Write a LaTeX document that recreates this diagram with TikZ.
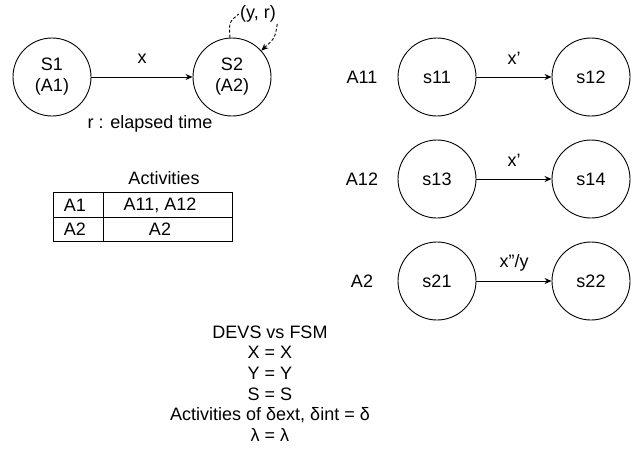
\documentclass[tikz,border=0pt]{standalone}
\usepackage{fontspec}
\setmainfont{Liberation Sans}
\usetikzlibrary{arrows.meta}
\begin{document}
\begin{tikzpicture}[x=1pt,y=-1pt,line width=0.9pt,
  every node/.style={font=\fontsize{18}{21}\selectfont},
  state/.style={circle,draw,minimum size=78pt,inner sep=0pt,align=center},
  trans/.style={-{Stealth[length=7pt,width=6pt]}},
  selfloop/.style={dash pattern=on 3pt off 2pt},
  lbl/.style={inner sep=1pt}]
\useasboundingbox (0,0) rectangle (631,448);

% DEVS model
\node[state] (S1) at (52,77) {S1\\(A1)};
\node[state] (S2) at (232,77) {S2\\(A2)};
\draw[trans] (S1) -- node[lbl,yshift=18pt] (lx) {x} (S2);
\node[lbl] (yr) at (258,14) {(y, r)};
\draw[selfloop] (S2.93) .. controls (229,22) .. (yr.west);
\draw[selfloop,trans] (yr.south east) .. controls (275,38) .. (S2.42);
\node[lbl] (el) at (150,124) {r : elapsed time};

% activity table
\node[lbl] (acth) at (164,178) {Activities};
\coordinate (tnw) at (53,192.5);
\coordinate (tse) at (232,241.5);
\coordinate (tml) at (53,217.5);
\coordinate (tmr) at (232,217.5);
\coordinate (tct) at (103,192.5);
\coordinate (tcb) at (103,241.5);
\draw (tnw) rectangle (tse);
\draw (tml) -- (tmr);
\draw (tct) -- (tcb);
\node[lbl] (a1) at (75,205) {A1};
\node[lbl] (a1v) at (160,205) {A11, A12};
\node[lbl] (a2) at (75,229.5) {A2};
\node[lbl] (a2v) at (160,229.5) {A2};

% FSM for each activity
\node[lbl] (lA11) at (362,77) {A11};
\node[state] (s11) at (437,77) {s11};
\node[state] (s12) at (591,77) {s12};
\draw[trans] (s11) -- node[lbl,yshift=19pt] (x1) {x'} (s12);

\node[lbl] (lA12) at (362,179) {A12};
\node[state] (s13) at (437,179) {s13};
\node[state] (s14) at (591,179) {s14};
\draw[trans] (s13) -- node[lbl,yshift=19pt] (x2) {x'} (s14);

\node[lbl] (lA2) at (362,281) {A2};
\node[state] (s21) at (437,281) {s21};
\node[state] (s22) at (591,281) {s22};
\draw[trans] (s21) -- node[lbl,yshift=18.5pt] (x3) {x''/y} (s22);

% correspondence notes
\node[align=center,font=\fontsize{18}{20.6}\selectfont] (cmp) at (270,383.5)
  {DEVS vs FSM\\X = X\\Y = Y\\S = S\\Activities of δext, δint = δ\\λ = λ};
\end{tikzpicture}
\end{document}
